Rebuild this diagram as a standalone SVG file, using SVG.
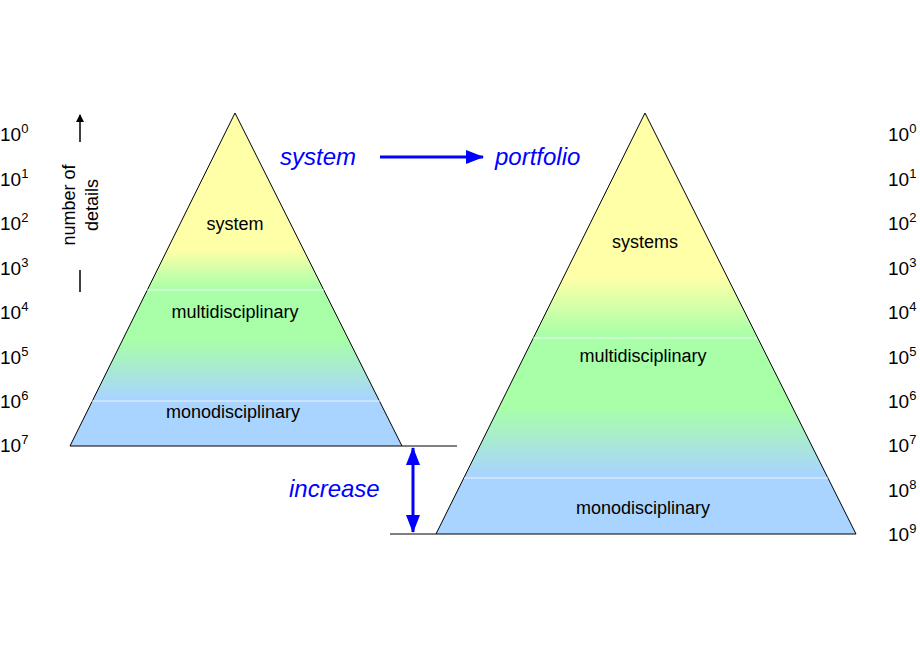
<svg xmlns="http://www.w3.org/2000/svg" width="920" height="660" viewBox="0 0 920 660">
<style>
text{font-family:"Liberation Sans",Arial,sans-serif;font-size:18px;fill:#000}
.ax{font-size:19px}
.bl{fill:#0000ff;font-style:italic;font-size:24px}
.sep{stroke:#fff;stroke-width:1;opacity:.8}
</style>
<defs>
<linearGradient id="gl" gradientUnits="userSpaceOnUse" x1="0" y1="113" x2="0" y2="446">
<stop offset="0" stop-color="#ffffa8"/><stop offset="0.41" stop-color="#ffffa8"/>
<stop offset="0.53" stop-color="#a8ffa8"/><stop offset="0.68" stop-color="#a8ffa8"/>
<stop offset="0.86" stop-color="#a8d4ff"/><stop offset="1" stop-color="#a8d4ff"/>
</linearGradient>
<linearGradient id="gr" gradientUnits="userSpaceOnUse" x1="0" y1="113" x2="0" y2="534">
<stop offset="0" stop-color="#ffffa8"/><stop offset="0.39" stop-color="#ffffa8"/>
<stop offset="0.53" stop-color="#a8ffa8"/><stop offset="0.7" stop-color="#a8ffa8"/>
<stop offset="0.86" stop-color="#a8d4ff"/><stop offset="1" stop-color="#a8d4ff"/>
</linearGradient>
<marker id="ab" markerWidth="8" markerHeight="8" refX="7" refY="4" orient="auto-start-reverse" markerUnits="userSpaceOnUse" viewBox="0 0 8 8"><path d="M0,0 L8,4 L0,8 z" fill="#000"/></marker>
<marker id="bb" markerWidth="18" markerHeight="14" refX="17" refY="7" orient="auto-start-reverse" markerUnits="userSpaceOnUse" viewBox="0 0 18 14"><path d="M0,0 L18,7 L0,14 z" fill="#0000ff"/></marker>
</defs>

<g id="left-pyramid">
<polygon points="235,113 402,446 70,446" fill="url(#gl)" stroke="#000" stroke-width="1"/>
<line class="sep" x1="144" y1="290" x2="324" y2="290"/>
<line class="sep" x1="89" y1="401" x2="380" y2="401"/>
<text x="235" y="230" text-anchor="middle">system</text>
<text x="235" y="318" text-anchor="middle">multidisciplinary</text>
<text x="233" y="418" text-anchor="middle">monodisciplinary</text>
</g>

<g id="right-pyramid">
<polygon points="645,113 856,534 436,534" fill="url(#gr)" stroke="#000" stroke-width="1"/>
<line class="sep" x1="533" y1="338" x2="757" y2="338"/>
<line class="sep" x1="464" y1="478" x2="828" y2="478"/>
<text x="645" y="248" text-anchor="middle">systems</text>
<text x="643" y="362" text-anchor="middle">multidisciplinary</text>
<text x="643" y="514" text-anchor="middle">monodisciplinary</text>
</g>

<g id="left-axis">
<text class="ax" x="0" y="141">10<tspan dy="-8" font-size="13">0</tspan></text>
<text class="ax" x="0" y="186">10<tspan dy="-8" font-size="13">1</tspan></text>
<text class="ax" x="0" y="230">10<tspan dy="-8" font-size="13">2</tspan></text>
<text class="ax" x="0" y="275">10<tspan dy="-8" font-size="13">3</tspan></text>
<text class="ax" x="0" y="319">10<tspan dy="-8" font-size="13">4</tspan></text>
<text class="ax" x="0" y="364">10<tspan dy="-8" font-size="13">5</tspan></text>
<text class="ax" x="0" y="408">10<tspan dy="-8" font-size="13">6</tspan></text>
<text class="ax" x="0" y="452">10<tspan dy="-8" font-size="13">7</tspan></text>
<text transform="translate(75,205) rotate(-90)" text-anchor="middle">number of</text>
<text transform="translate(98,205) rotate(-90)" text-anchor="middle">details</text>
</g>

<g id="right-axis">
<text class="ax" x="888" y="141">10<tspan dy="-8" font-size="13">0</tspan></text>
<text class="ax" x="888" y="186">10<tspan dy="-8" font-size="13">1</tspan></text>
<text class="ax" x="888" y="230">10<tspan dy="-8" font-size="13">2</tspan></text>
<text class="ax" x="888" y="275">10<tspan dy="-8" font-size="13">3</tspan></text>
<text class="ax" x="888" y="319">10<tspan dy="-8" font-size="13">4</tspan></text>
<text class="ax" x="888" y="364">10<tspan dy="-8" font-size="13">5</tspan></text>
<text class="ax" x="888" y="408">10<tspan dy="-8" font-size="13">6</tspan></text>
<text class="ax" x="888" y="452">10<tspan dy="-8" font-size="13">7</tspan></text>
<text class="ax" x="888" y="497">10<tspan dy="-8" font-size="13">8</tspan></text>
<text class="ax" x="888" y="541">10<tspan dy="-8" font-size="13">9</tspan></text>
</g>

<g id="labels">
<text class="bl" x="280" y="165">system</text>
<text class="bl" x="495" y="165">portfolio</text>
<text class="bl" x="289" y="497">increase</text>
</g>

<g id="connectors">
<line x1="80" y1="292" x2="80" y2="270" stroke="#000" stroke-width="1.5"/>
<line x1="80" y1="142" x2="80" y2="115" stroke="#000" stroke-width="1.5" marker-end="url(#ab)"/>
<line x1="380" y1="157" x2="483" y2="157" stroke="#0000ff" stroke-width="3" marker-end="url(#bb)"/>
<line x1="402" y1="446" x2="457" y2="446" stroke="#000" stroke-width="1"/>
<line x1="390" y1="534" x2="436" y2="534" stroke="#000" stroke-width="1"/>
<line x1="413" y1="448" x2="413" y2="532" stroke="#0000ff" stroke-width="3" marker-start="url(#bb)" marker-end="url(#bb)"/>
</g>
</svg>
